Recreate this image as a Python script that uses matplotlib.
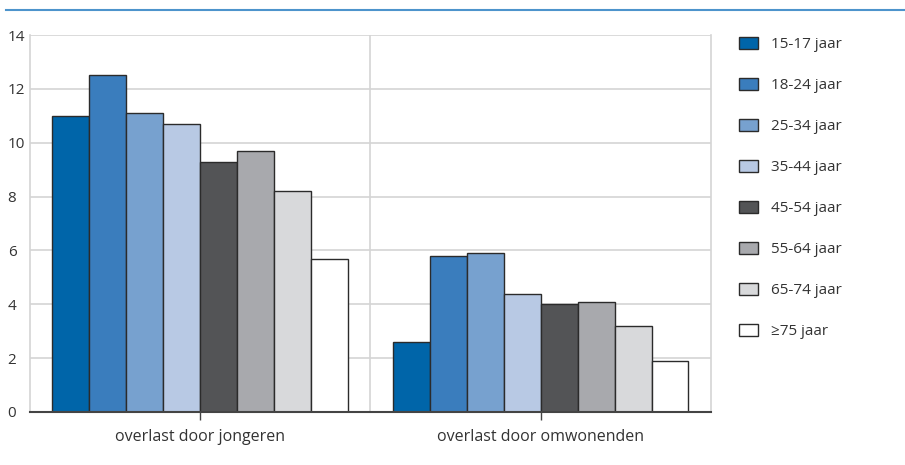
import matplotlib
matplotlib.use('Agg')
import matplotlib.pyplot as plt
from matplotlib.patches import Patch
from matplotlib.lines import Line2D
import numpy as np

plt.rcParams.update({
    'font.family': ['Open Sans', 'DejaVu Sans'],
    'font.size': 10,
    'text.color': '#333333',
})

categories = ['overlast door jongeren', 'overlast door omwonenden']
age_groups = ['15-17 jaar', '18-24 jaar', '25-34 jaar', '35-44 jaar',
              '45-54 jaar', '55-64 jaar', '65-74 jaar', '≥75 jaar']
values = [
    [11.0, 2.6],
    [12.5, 5.8],
    [11.1, 5.9],
    [10.7, 4.4],
    [9.3, 4.0],
    [9.7, 4.1],
    [8.2, 3.2],
    [5.7, 1.9],
]
colors = ['#0065a9', '#3a7dbd', '#77a1cf', '#b8c9e4',
          '#535456', '#a8a9ad', '#d8d9db', '#ffffff']

fig = plt.figure(figsize=(9.05, 4.65), dpi=100)
ax = fig.add_axes([0.0331, 0.114, 0.7525, 0.8107])

x = np.arange(len(categories))
n = len(age_groups)
w = 0.1085
for i, (vals, c) in enumerate(zip(values, colors)):
    ax.bar(x + (i - (n - 1) / 2) * w, vals, w, color=c, edgecolor='#2b2b2b',
           linewidth=1.0, zorder=3)

ax.set_xlim(-0.5, 1.5)
ax.set_ylim(0, 14)
ax.set_yticks(np.arange(0, 15, 2))
ax.set_xticks(x)
ax.set_xticklabels(categories, fontsize=11.5)
ax.grid(axis='y', color='#d4d4d4', linewidth=1.2, zorder=0)
ax.axvline(0.5, color='#d4d4d4', linewidth=1.2, zorder=0)
for s in ['top', 'right', 'left']:
    ax.spines[s].set_color('#d4d4d4')
    ax.spines[s].set_linewidth(1.2)
ax.spines['top'].set_visible(False)
ax.spines['bottom'].set_color('#444444')
ax.spines['bottom'].set_linewidth(1.5)
ax.spines['bottom'].set_zorder(4)
ax.tick_params(axis='y', length=0, pad=16, labelsize=11, labelcolor='#333333')
ax.tick_params(axis='x', length=6, width=1, color='#444444', pad=6,
               labelcolor='#333333')
for lab in ax.get_yticklabels():
    lab.set_horizontalalignment('left')

# top rule
fig.add_artist(Line2D([0.007, 1.0], [0.978, 0.978], color='#4d94cc',
                      linewidth=1.5, transform=fig.transFigure))

handles = [Patch(facecolor=c, edgecolor='#2b2b2b', linewidth=1.0)
           for c in colors]
fig.legend(handles, age_groups, loc='upper left', bbox_to_anchor=(0.8094, 0.934),
           frameon=False, fontsize=11, handlelength=1.25, handleheight=0.9,
           handletextpad=0.9, labelspacing=1.66, borderaxespad=0)

fig.savefig('out.png', dpi=100)
